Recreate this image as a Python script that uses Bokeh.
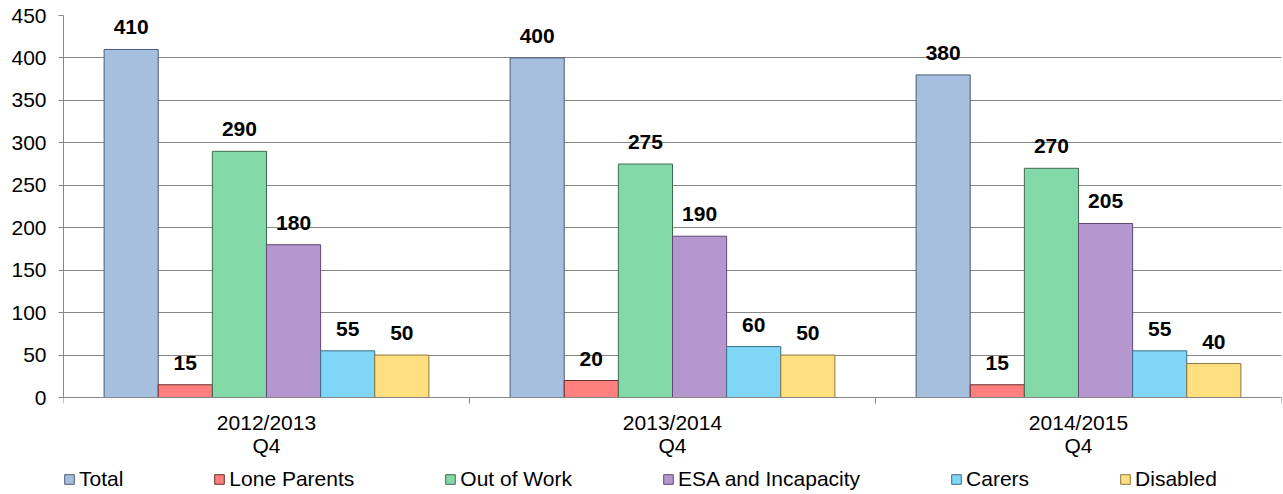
from bokeh.plotting import figure
from bokeh.models import Range1d, FixedTicker, Legend, LegendItem
from bokeh.embed import file_html
from bokeh.resources import INLINE
from bokeh.core.properties import value

# ---- data ----
groups = ["2012/2013\nQ4", "2013/2014\nQ4", "2014/2015\nQ4"]
series = ["Total", "Lone Parents", "Out of Work", "ESA and Incapacity", "Carers", "Disabled"]
total = [410, 400, 380]
lone_parents = [15, 20, 15]
out_of_work = [290, 275, 270]
esa_incapacity = [180, 190, 205]
carers = [55, 60, 55]
disabled = [50, 50, 40]
y_ticks = [0, 50, 100, 150, 200, 250, 300, 350, 400, 450]

values = [total, lone_parents, out_of_work, esa_incapacity, carers, disabled]
fills = ["#A7BFDE", "#FF7F7F", "#82D9A7", "#B596CF", "#80D6F7", "#FFDF80"]
lines = ["#4A5C75", "#6B2E2E", "#3E6B50", "#5C4872", "#3A6E84", "#8A7642"]

FONT = "Liberation Sans"

# frame extends below zero to leave room for category labels and legend
Y_MAX = 450
Y_MIN = -111.9

p = figure(width=1282, height=492, output_backend="svg", toolbar_location=None,
           x_range=Range1d(0, 3), y_range=Range1d(Y_MIN, Y_MAX),
           min_border_left=63, min_border_right=1, min_border_top=15, min_border_bottom=0)
p.outline_line_color = None
p.xgrid.visible = False
p.ygrid.ticker = FixedTicker(ticks=y_ticks)
p.ygrid.grid_line_color = "#868686"
p.ygrid.grid_line_width = 1

# y axis
p.yaxis.ticker = FixedTicker(ticks=y_ticks)
p.yaxis.bounds = (0, Y_MAX)
p.yaxis.axis_line_color = "#868686"
p.yaxis.major_tick_line_color = "#868686"
p.yaxis.major_tick_out = 5
p.yaxis.major_tick_in = 0
p.yaxis.minor_tick_line_color = None
p.yaxis.major_label_standoff = 12
p.yaxis.major_label_text_font = FONT
p.yaxis.major_label_text_font_size = "21px"
p.yaxis.major_label_text_color = "#000000"

# x axis (drawn at y = 0)
centers = [g + 0.5 for g in range(len(groups))]
bounds = [g for g in range(len(groups) + 1)]
p.xaxis.fixed_location = 0
p.xaxis.ticker = FixedTicker(ticks=centers, minor_ticks=bounds)
p.xaxis.major_label_overrides = {c: lab for c, lab in zip(centers, groups)}
p.xaxis.axis_line_color = "#868686"
p.xaxis.major_tick_line_color = None
p.xaxis.major_tick_out = 0
p.xaxis.major_tick_in = 0
p.xaxis.minor_tick_line_color = "#868686"
p.xaxis.minor_tick_out = 6
p.xaxis.minor_tick_in = 0
p.xaxis.major_label_standoff = 7
p.xaxis.major_label_text_font = FONT
p.xaxis.major_label_text_font_size = "21px"
p.xaxis.major_label_text_line_height = 1.0
p.xaxis.major_label_text_color = "#000000"

n = len(series)
bw = 0.8 / n
renderers = []
for i, (name, vals) in enumerate(zip(series, values)):
    xs = [g + 0.1 + (i + 0.5) * bw for g in range(len(groups))]
    r = p.vbar(x=xs, top=vals, width=bw, bottom=0, fill_color=fills[i],
               line_color=lines[i], line_width=1)
    renderers.append(r)
    p.text(x=xs, y=vals, text=[str(v) for v in vals], text_align="center",
           text_baseline="alphabetic", y_offset=-22,
           text_font=value(FONT), text_font_size="21px", text_font_style="bold",
           text_color="#000000")

lg = Legend(items=[LegendItem(label=name, renderers=[r]) for name, r in zip(series, renderers)],
            location=(0, 1), orientation="horizontal",
            glyph_width=12, glyph_height=12, label_standoff=4,
            label_text_font=FONT, label_text_font_size="21px",
            label_text_color="#000000",
            padding=0, margin=0, spacing=90,
            border_line_color=None, background_fill_alpha=0)
p.add_layout(lg, "center")

open("out.html", "w").write(file_html(p, INLINE))
